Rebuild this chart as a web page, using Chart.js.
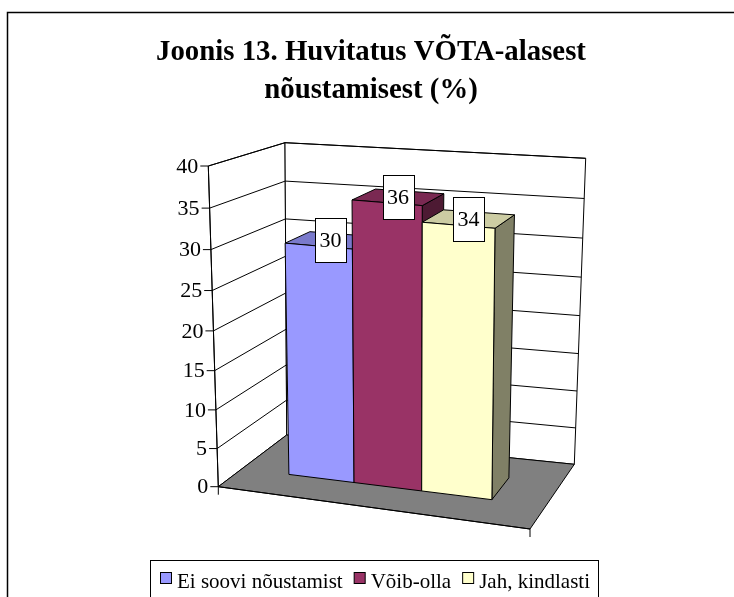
<!DOCTYPE html>
<html><head><meta charset="utf-8">
<script src="https://cdn.jsdelivr.net/npm/chart.js@4.4.0/dist/chart.umd.min.js"></script>
<style>html,body{margin:0;padding:0;background:#fff;}canvas{display:block;}</style>
</head><body>
<canvas id="c" width="734" height="597"></canvas>
<script>
// ---- data ----
const categories = [''];
const seriesNames = ['Ei soovi nõustamist', 'Võib-olla', 'Jah, kindlasti'];
const seriesValues = [30, 36, 34];
const yTickValues = [0, 5, 10, 15, 20, 25, 30, 35, 40];
const titleLines = ['Joonis 13. Huvitatus VÕTA-alasest', 'nõustamisest (%)'];

// ---- styles ----
const palette = [
  {front:'#9999FF', top:'#7A7ACC', side:'#4D4D80'},
  {front:'#993366', top:'#7A2952', side:'#4D1A33'},
  {front:'#FFFFCC', top:'#CCCCA3', side:'#808066'}
];
const FONT = "'Liberation Serif', 'Times New Roman', serif";

// plot cube corners in the picture (front/back, bottom/top, left/right)
const BOX = {
  FBL:[218.3,486.7], FTL:[208.3,166], BBL:[286.7,435], BTL:[285,142.7],
  FBR:[530,529], BBR:[574.3,464.3], BTR:[585.7,158.3]
};
BOX.FTR = [
  BOX.FBR[0]+(BOX.FTL[0]-BOX.FBL[0])+(BOX.BTR[0]-BOX.BBR[0])-(BOX.BTL[0]-BOX.BBL[0]),
  BOX.FBR[1]+(BOX.FTL[1]-BOX.FBL[1])+(BOX.BTR[1]-BOX.BBR[1])-(BOX.BTL[1]-BOX.BBL[1])
];
const KU = -0.08, KT = -0.055;   // perspective warps
const D0 = 0.35, D1 = 0.70;      // bar depth range

function warp(x,k){return x*(1+k)/(1+k*x);}
function lerp(a,b,s){return [a[0]+(b[0]-a[0])*s, a[1]+(b[1]-a[1])*s];}
function proj(u,t,d){
  const uw=warp(u,KU), tw=warp(t,KT);
  const fb=lerp(BOX.FBL,BOX.FBR,uw), ft=lerp(BOX.FTL,BOX.FTR,uw);
  const bb=lerp(BOX.BBL,BOX.BBR,uw), bt=lerp(BOX.BTL,BOX.BTR,uw);
  return lerp(lerp(fb,ft,tw), lerp(bb,bt,tw), d);
}
function poly(ctx,pts,fill){
  ctx.beginPath(); ctx.moveTo(pts[0][0],pts[0][1]);
  for(let i=1;i<pts.length;i++) ctx.lineTo(pts[i][0],pts[i][1]);
  ctx.closePath();
  if(fill){ctx.fillStyle=fill; ctx.fill();}
  ctx.stroke();
}
function seg(ctx,a,b){ctx.beginPath();ctx.moveTo(a[0],a[1]);ctx.lineTo(b[0],b[1]);ctx.stroke();}

const threeD = {
  id:'threeD',
  beforeDatasetsDraw(chart){
    const ctx=chart.ctx, ca=chart.chartArea, ys=chart.scales.y;
    const H = ca.bottom-ca.top, W = ca.right-ca.left;
    const tOf = v => (ca.bottom - ys.getPixelForValue(v))/H;
    const uOf = x => (x - ca.left)/W;
    ctx.save();
    ctx.lineWidth=1; ctx.strokeStyle='#000'; ctx.lineJoin='miter';
    // walls and floor
    poly(ctx,[proj(0,0,0),proj(0,1,0),proj(0,1,1),proj(0,0,1)],'#fff');
    poly(ctx,[proj(0,0,1),proj(0,1,1),proj(1,1,1),proj(1,0,1)],'#fff');
    poly(ctx,[proj(0,0,0),proj(1,0,0),proj(1,0,1),proj(0,0,1)],'#808080');
    // gridlines, ticks, tick labels
    ctx.font = "22px "+FONT; ctx.fillStyle='#000';
    ctx.textAlign='right'; ctx.textBaseline='middle';
    yTickValues.forEach(v=>{
      const t=tOf(v);
      if(v>0){ seg(ctx,proj(0,t,0),proj(0,t,1)); seg(ctx,proj(0,t,1),proj(1,t,1)); }
      const p=proj(0,t,0);
      seg(ctx,[p[0]-8,p[1]],p);
      ctx.fillText(String(v), p[0]-10, p[1]+1);
    });
    // value axis & category axis
    seg(ctx,proj(0,0,0),proj(0,1,0));
    seg(ctx,proj(0,0,0),proj(1,0,0));
    [0,1].forEach(u=>{const p=proj(u,0,0); seg(ctx,p,[p[0],p[1]+8]);});
    // bars
    const tops=[];
    chart.data.datasets.forEach((ds,i)=>{
      const el=chart.getDatasetMeta(i).data[0];
      const u0=uOf(el.x-el.width/2), u1=uOf(el.x+el.width/2);
      const t=(ca.bottom-el.y)/H, tb=(ca.bottom-el.base)/H;
      const c=palette[i];
      poly(ctx,[proj(u1,tb,D0),proj(u1,tb,D1),proj(u1,t,D1),proj(u1,t,D0)],c.side);
      poly(ctx,[proj(u0,t,D0),proj(u1,t,D0),proj(u1,t,D1),proj(u0,t,D1)],c.top);
      poly(ctx,[proj(u0,tb,D0),proj(u1,tb,D0),proj(u1,t,D0),proj(u0,t,D0)],c.front);
      tops.push({p:proj((u0+u1)/2,t,(D0+D1)/2), v:ds.data[0]});
    });
    // data labels
    ctx.textAlign='center';
    tops.forEach(o=>{
      const txt=String(o.v), w=ctx.measureText(txt).width+9, h=44;
      const x=Math.round(o.p[0]-w/2)+0.5, y=Math.round(o.p[1]-h/2)+0.5;
      ctx.fillStyle='#fff'; ctx.fillRect(x,y,w,h); ctx.strokeRect(x,y,w,h);
      ctx.fillStyle='#000'; ctx.fillText(txt,o.p[0],o.p[1]+1);
    });
    ctx.restore();
    return false;
  },
  afterDraw(chart){
    const ctx=chart.ctx;
    ctx.save();
    ctx.strokeStyle='#000';
    ctx.lineWidth=1.5;
    ctx.strokeRect(7.5,12.5,900,700);
    // legend
    ctx.lineWidth=1;
    ctx.strokeRect(150.5,560.5,448,60);
    ctx.font="21px "+FONT; ctx.textBaseline='alphabetic'; ctx.textAlign='left';
    let x=160;
    chart.data.datasets.forEach((ds,i)=>{
      ctx.fillStyle=ds.backgroundColor; ctx.fillRect(x+0.5,572.5,11,11); ctx.strokeRect(x+0.5,572.5,11,11);
      ctx.fillStyle='#000'; ctx.fillText(ds.label,x+17,588);
      x += 17 + ctx.measureText(ds.label).width + 11;
    });
    ctx.restore();
  }
};

new Chart(document.getElementById('c').getContext('2d'), {
  type:'bar',
  data:{
    labels:categories,
    datasets: seriesNames.map((n,i)=>({label:n, data:[seriesValues[i]], backgroundColor:palette[i].front, borderColor:'#000', borderWidth:1}))
  },
  options:{
    responsive:false, animation:false, events:[],
    layout:{padding:{left:8,right:0,top:0,bottom:0}},
    datasets:{bar:{categoryPercentage:0.67, barPercentage:1}},
    scales:{
      x:{display:false, offset:true},
      y:{display:false, min:0, max:40, ticks:{stepSize:5}}
    },
    plugins:{
      legend:{display:false}, tooltip:{enabled:false},
      title:{display:true, text:titleLines, color:'#000',
        font:{family:FONT, size:28.8, weight:'bold', lineHeight:1.32},
        padding:{top:33.5,bottom:10}}
    }
  },
  plugins:[threeD]
});
</script>
</body></html>
